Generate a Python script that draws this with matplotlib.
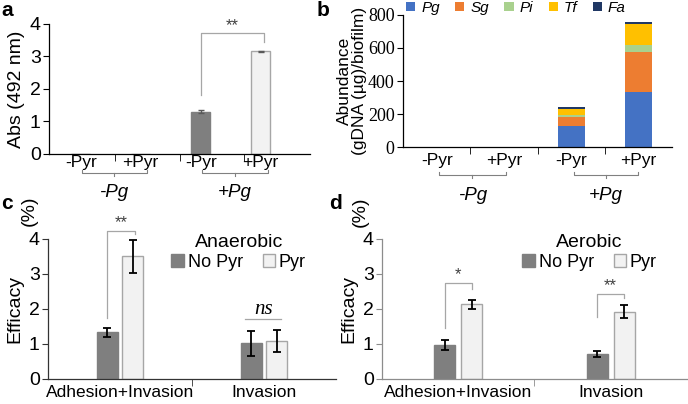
import matplotlib
matplotlib.use("Agg")
import matplotlib.pyplot as plt
import numpy as np

plt.rcParams["font.family"] = ["Liberation Sans", "DejaVu Sans"]

# panel a
a_labels = ["-Pyr", "+Pyr", "-Pyr", "+Pyr"]
a_groups = ["-Pg", "+Pg"]
a_values = [0, 0, 1.30, 3.15]
a_err = [0, 0, 0.04, 0.03]

# panel b
b_labels = ["-Pyr", "+Pyr", "-Pyr", "+Pyr"]
b_species = ["Pg", "Sg", "Pi", "Tf", "Fa"]
b_pg = [0, 0, 129, 335]
b_sg = [0, 0, 55, 239]
b_pi = [0, 0, 12, 44]
b_tf = [0, 0, 34, 127]
b_fa = [0, 0, 10, 11]
b_colors = ["#4472c4", "#ed7d31", "#a9d18e", "#ffc000", "#203864"]

# panels c, d
cd_labels = ["Adhesion+Invasion", "Invasion"]
c_nopyr = [1.33, 1.02]
c_nopyr_err = [0.12, 0.35]
c_pyr = [3.50, 1.09]
c_pyr_err = [0.48, 0.31]
d_nopyr = [0.97, 0.72]
d_nopyr_err = [0.14, 0.09]
d_pyr = [2.13, 1.92]
d_pyr_err = [0.12, 0.18]

DARK = "#7f7f7f"
LIGHT = "#f2f2f2"
EDGE = "#a6a6a6"

fig = plt.figure(figsize=(6.88, 4.04), dpi=100)
ax_a = fig.add_axes([0.0712, 0.619, 0.379, 0.322])
ax_b = fig.add_axes([0.5858, 0.636, 0.391, 0.327])
ax_c = fig.add_axes([0.0698, 0.062, 0.4186, 0.3465])
ax_d = fig.add_axes([0.5552, 0.062, 0.4433, 0.3465])


def style(ax, spine_col="black"):
    for s in ["top", "right"]:
        ax.spines[s].set_visible(False)
    for s in ["left", "bottom"]:
        ax.spines[s].set_color(spine_col)
        ax.spines[s].set_linewidth(0.9)
    ax.tick_params(axis="y", length=4, color=spine_col, labelsize=14, pad=2)
    ax.tick_params(axis="x", which="major", length=0, labelsize=12.5)
    ax.tick_params(axis="x", which="minor", length=5, color=spine_col)


def sig(ax, x1, x2, y1, ytop, y2, txt, ty, fs=12):
    ax.plot([x1, x1, x2, x2], [y1, ytop, ytop, y2], color=EDGE, lw=0.9,
            clip_on=False)
    ax.text((x1 + x2) / 2, ty, txt, ha="center", va="center", fontsize=fs,
            color="#404040", clip_on=False)


def group_bracket(ax, x1, x2, xm, yl, yend, ytick, ylab, label):
    tr = ax.get_xaxis_transform()
    ax.plot([x1, x1, x2, x2], [yend, yl, yl, yend], color="#808080", lw=0.8,
            transform=tr, clip_on=False)
    ax.plot([xm, xm], [yl, ytick], color="#808080", lw=0.8, transform=tr,
            clip_on=False)
    ax.text(xm, ylab, label, transform=tr, ha="center", va="center",
            fontsize=13.5, fontstyle="italic")


# ---- a
xa = np.arange(4)
style(ax_a)
ax_a.bar(xa, a_values, width=0.32, color=[DARK, LIGHT, DARK, LIGHT],
         edgecolor=[DARK, EDGE, DARK, EDGE], linewidth=1.0)
ax_a.errorbar(xa[2:], a_values[2:], yerr=a_err[2:], fmt="none", ecolor="#595959",
              capsize=2.5, elinewidth=1)
ax_a.set_xlim(-0.53, 3.82)
ax_a.set_ylim(0, 4)
ax_a.set_yticks([0, 1, 2, 3, 4])
ax_a.set_xticks(xa)
ax_a.set_xticklabels(a_labels)
ax_a.set_xticks([0.57, 1.65, 2.73], minor=True)
ax_a.tick_params(axis="x", which="major", pad=1)
ax_a.set_ylabel("Abs (492 nm)", fontsize=14, labelpad=3)
sig(ax_a, 2, 3.05, 1.82, 3.72, 3.45, "**", 3.95)
group_bracket(ax_a, 0.02, 1.1, 0.55, -0.145, -0.122, -0.17, -0.30, a_groups[0])
group_bracket(ax_a, 2.02, 3.12, 2.57, -0.145, -0.122, -0.17, -0.30, a_groups[1])

# ---- b
xb = np.arange(4)
style(ax_b)
bottom = np.zeros(4)
for name, vals, col in zip(b_species, [b_pg, b_sg, b_pi, b_tf, b_fa], b_colors):
    ax_b.bar(xb, vals, width=0.4, bottom=bottom, color=col, label=name)
    bottom += np.array(vals)
ax_b.set_xlim(-0.5, 3.5)
ax_b.set_ylim(0, 800)
ax_b.set_yticks([0, 200, 400, 600, 800])
ax_b.set_yticklabels(["0", "200", "400", "600", "800"], family="Liberation Serif",
                     fontsize=13)
ax_b.set_xticks(xb)
ax_b.set_xticklabels(b_labels)
ax_b.set_xticks([0.5, 1.5, 2.5], minor=True)
ax_b.tick_params(axis="x", which="major", pad=4)
ax_b.set_ylabel("Abundance\n(gDNA (\u00b5g)/biofilm)", fontsize=12.5,
                linespacing=1.0, labelpad=1)
group_bracket(ax_b, 0.04, 1.03, 0.53, -0.212, -0.19, -0.235, -0.37, a_groups[0])
group_bracket(ax_b, 2.04, 3.0, 2.52, -0.212, -0.19, -0.235, -0.37, a_groups[1])
leg = ax_b.legend(loc="upper center", bbox_to_anchor=(0.75, 1.0),
                  bbox_transform=fig.transFigure, ncol=5, frameon=False,
                  fontsize=11, handlelength=0.6, handleheight=0.6,
                  handletextpad=0.4, columnspacing=1.0, borderpad=0.05,
                  borderaxespad=0)
for t in leg.get_texts():
    t.set_fontstyle("italic")


# ---- c, d
def effic(ax, nopyr, nopyr_err, pyr, pyr_err, spine_col, w, off):
    x = np.arange(2)
    style(ax, spine_col)
    ax.bar(x - off, nopyr, width=w, color=DARK, edgecolor=DARK, lw=1,
           label="No Pyr")
    ax.bar(x + off, pyr, width=w, color=LIGHT, edgecolor=EDGE, lw=1,
           label="Pyr")
    ax.errorbar(x - off, nopyr, yerr=nopyr_err, fmt="none", ecolor="black",
                capsize=3, elinewidth=1.3, capthick=1.3)
    ax.errorbar(x + off, pyr, yerr=pyr_err, fmt="none", ecolor="black",
                capsize=3, elinewidth=1.3, capthick=1.3)
    ax.set_xlim(-0.5, 1.5)
    ax.set_ylim(0, 4)
    ax.set_yticks([0, 1, 2, 3, 4])
    ax.set_xticks(x)
    ax.set_xticklabels(cd_labels, fontsize=12.5)
    ax.set_xticks([0.5], minor=True)
    ax.tick_params(axis="x", which="major", pad=4)
    ax.set_ylabel("Efficacy", fontsize=14, labelpad=4)
    return x


leg_kw = dict(ncol=2, frameon=False, title_fontsize=14, fontsize=13,
              handlelength=0.7, handleheight=0.7, handletextpad=0.2,
              columnspacing=1.1, borderpad=0.1, labelspacing=0.15)

xc = effic(ax_c, c_nopyr, c_nopyr_err, c_pyr, c_pyr_err, "#333333", 0.14, 0.087)
sig(ax_c, -0.087, 0.105, 1.74, 4.23, 4.15, "**", 4.47)
ax_c.plot([0.87, 1.12], [1.71, 1.71], color=EDGE, lw=0.9)
ax_c.text(0.995, 1.98, "ns", ha="center", va="center", fontsize=15,
          family="Liberation Serif", fontstyle="italic")
ax_c.legend(loc="upper center", bbox_to_anchor=(0.347, 0.447),
            bbox_transform=fig.transFigure, title="Anaerobic", **leg_kw)

xd = effic(ax_d, d_nopyr, d_nopyr_err, d_pyr, d_pyr_err, "#8c8c8c", 0.137, 0.088)
sig(ax_d, -0.088, 0.09, 1.46, 2.73, 2.57, "*", 2.97)
sig(ax_d, 0.91, 1.09, 1.78, 2.42, 2.32, "**", 2.66)
ax_d.legend(loc="upper center", bbox_to_anchor=(0.857, 0.447),
            bbox_transform=fig.transFigure, title="Aerobic", **leg_kw)

# (%) next to ylabels
fig.text(29 / 688, 1 - 211 / 404, "(%)", rotation=90, ha="center",
         va="center", fontsize=14)
fig.text(360 / 688, 1 - 212 / 404, "(%)", rotation=90, ha="center",
         va="center", fontsize=14)

# panel letters
for lab, x, y in [("a", 0.0, 0.997), ("b", 0.458, 0.997), ("c", 0.0, 0.52),
                  ("d", 0.476, 0.52)]:
    fig.text(x + 0.002, y, lab, fontsize=15, fontweight="bold",
             ha="left", va="top")

fig.savefig("out.png", dpi=100)
